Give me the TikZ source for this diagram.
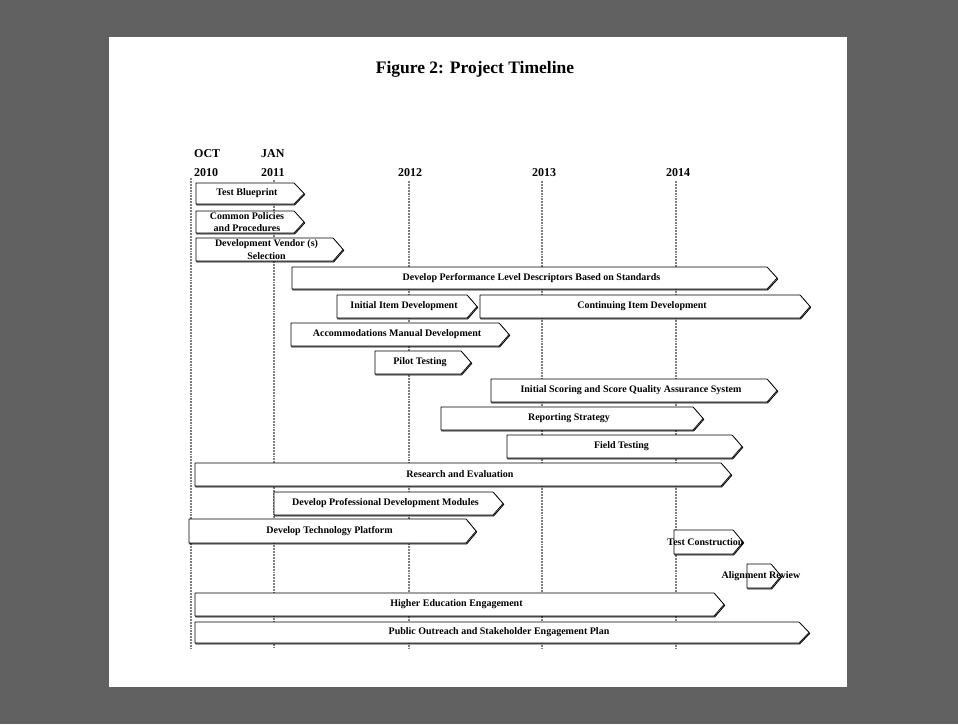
\documentclass[tikz,border=0pt]{standalone}
\usepackage{fontspec}
\setmainfont{Liberation Serif}
\tikzset{
  gridline/.style={black!50,densely dotted,line width=1.9pt},
  barshade/.style={draw=black,line width=0.9pt,xshift=0.7pt,yshift=-0.9pt},
  bar/.style={draw=black,fill=white,line width=0.7pt},
  bartext/.style={font=\fontsize{10}{12.5}\selectfont\bfseries,align=center,inner sep=0pt},
  yearlbl/.style={font=\fontsize{12}{14}\selectfont\bfseries,inner sep=0pt}
}
\begin{document}
\begin{tikzpicture}[x=1pt,y=-1pt,line join=round]
\def \tip{10};
\def \ybot{648};
\useasboundingbox (0,0) rectangle (958,724);
\fill[black!62] (0,0) rectangle (958,724);
\fill[white] (109,37) rectangle (847,687);
\node[anchor=base,inner sep=0pt,font=\fontsize{17.5}{20}\selectfont\bfseries] (title) at (475,73) {Figure 2: Project Timeline};
\foreach \x/\t/\n in {194/OCT/oct,261/JAN/jan}{\node[yearlbl,anchor=base west] (\n) at (\x,157) {\t};}
\foreach \x/\t in {194/2010,261/2011}{\node[yearlbl,anchor=base west] (y\t) at (\x,176) {\t};}
\foreach \x/\t in {410/2012,544/2013,678/2014}{\node[yearlbl,anchor=base] (y\t) at (\x,176) {\t};}
\foreach \x/\s in {191/178,274/180,409/181,542/181,676/181}{\draw[gridline] (\x,\s) -- (\x,\ybot);}
\foreach \l/\t/\b/\r/\txt [count=\i] in {
  196/183/204/304/{Test Blueprint},
  196/211/233/304/{Common Policies\\and Procedures},
  196/238/261/343/{Development Vendor (s)\\Selection},
  292/267/289/777/{Develop Performance Level Descriptors Based on Standards},
  337/295/318/477/{Initial Item Development},
  480/295/318/810/{Continuing Item Development},
  291/323/346/509/{Accommodations Manual Development},
  375/351/374/471/{Pilot Testing},
  491/379/402/777/{Initial Scoring and Score Quality Assurance System},
  441/407/430/703/{Reporting Strategy},
  507/435/458/742/{Field Testing},
  195/463/486/731/{Research and Evaluation},
  274/492/515/503/{Develop Professional Development Modules},
  189/519/543/476/{Develop Technology Platform},
  674/530/554/743/{Test Construction},
  747/564/588/781/{Alignment Review},
  195/593/616/724/{Higher Education Engagement},
  195/622/643/809/{Public Outreach and Stakeholder Engagement Plan}}{
  \draw[barshade] (\l,\t) -- (\r-\tip,\t) -- (\r,{(\t+\b)/2}) -- (\r-\tip,\b) -- (\l,\b) -- cycle;
  \filldraw[bar] (\l,\t) -- (\r-\tip,\t) -- (\r,{(\t+\b)/2}) -- (\r-\tip,\b) -- (\l,\b) -- cycle;
  \node[bartext] (bar\i) at ({(\l+\r)/2-3},{(\t+\b)/2}) {\txt};
}
\end{tikzpicture}
\end{document}
